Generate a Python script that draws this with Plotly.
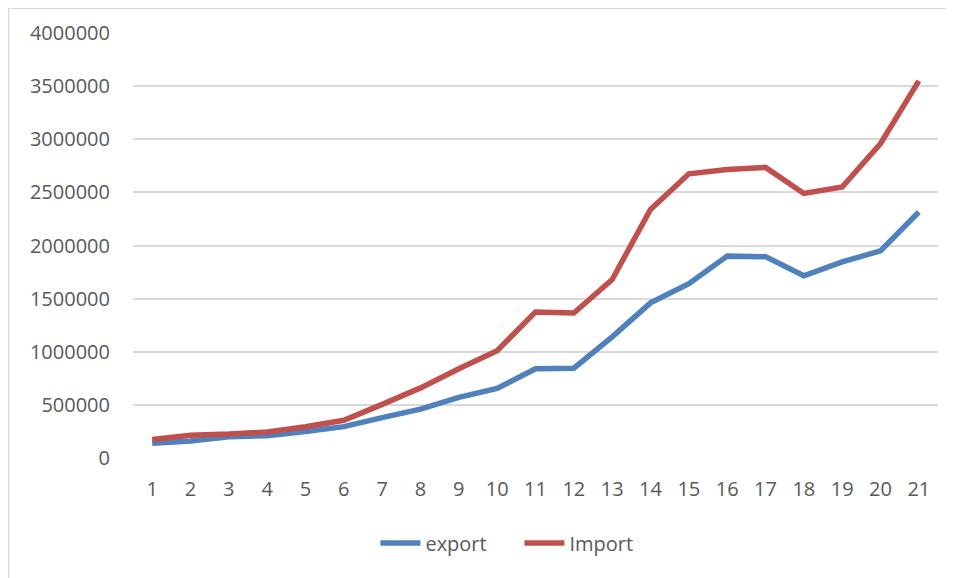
import plotly.graph_objects as go

categories = list(range(1, 22))
export_vals = [140000, 160000, 200000, 210000, 250000, 295000, 380000, 460000, 570000, 655000,
               840000, 845000, 1140000, 1460000, 1640000, 1900000, 1895000, 1715000, 1845000, 1950000, 2315000]
import_vals = [175000, 215000, 225000, 245000, 295000, 355000, 505000, 660000, 840000, 1010000,
               1375000, 1365000, 1680000, 2340000, 2675000, 2715000, 2735000, 2490000, 2550000, 2960000, 3550000]
y_ticks = [0, 500000, 1000000, 1500000, 2000000, 2500000, 3000000, 3500000, 4000000]

font_family = "Open Sans, Liberation Sans, sans-serif"
text_color = "#595959"

fig = go.Figure()
fig.add_trace(go.Scatter(x=categories, y=export_vals, mode="lines", name="export",
                         line=dict(color="#4F81BD", width=5.5)))
fig.add_trace(go.Scatter(x=categories, y=import_vals, mode="lines", name="Import",
                         line=dict(color="#C0504D", width=5.5)))

fig.update_layout(
    width=946, height=570,
    margin=dict(l=125, r=16, t=25, b=120),
    paper_bgcolor="white", plot_bgcolor="white",
    font=dict(family=font_family, size=20, color=text_color),
    showlegend=True,
    legend=dict(orientation="h", x=0.48, xanchor="center", y=-0.2, yanchor="middle",
                font=dict(size=20, color=text_color), itemwidth=40,
                entrywidth=89, entrywidthmode="pixels"),
    xaxis=dict(range=[0.5, 21.5], tickmode="array", tickvals=categories,
               ticktext=[str(c) for c in categories], showgrid=False, zeroline=False,
               showline=False, ticks="", ticklabelstandoff=17, fixedrange=True),
    yaxis=dict(range=[0, 4000000], tickmode="array", tickvals=y_ticks,
               ticktext=[str(v) for v in y_ticks], showgrid=True, gridcolor="#D9D9D9",
               gridwidth=1.5, zeroline=False, showline=False, ticks="",
               ticklabelstandoff=22, fixedrange=True),
    shapes=[
        dict(type="line", xref="paper", yref="paper", x0=-0.155, x1=1.03, y0=1.058, y1=1.058,
             line=dict(color="#D9D9D9", width=1.5)),
        dict(type="line", xref="paper", yref="paper", x0=-0.1545, x1=-0.1545, y0=1.058, y1=-0.3,
             line=dict(color="#D9D9D9", width=1.5)),
    ],
)

fig.write_html("out.html")
